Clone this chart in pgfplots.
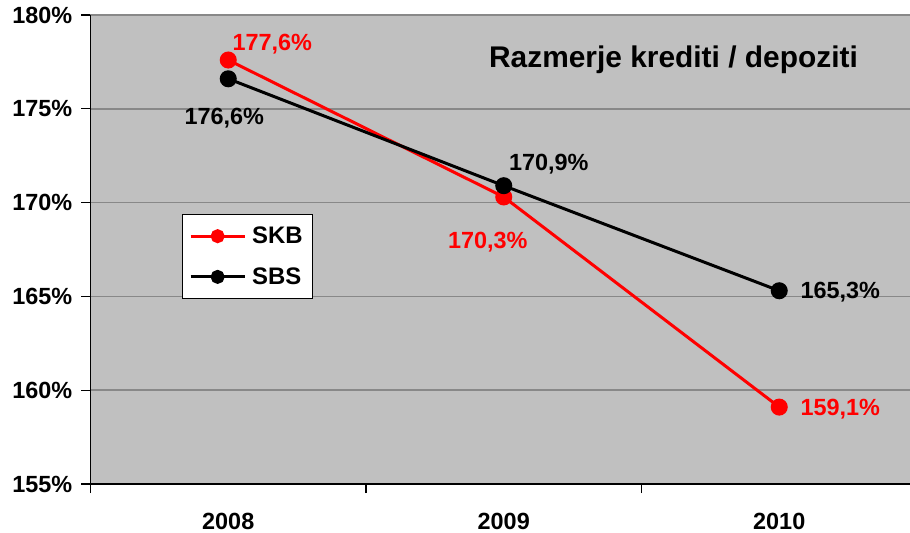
\documentclass[border=0pt]{standalone}
\usepackage{fontspec}
\setmainfont{Liberation Sans}
\usepackage{pgfplots}
\usepackage{pgfplotstable}
\pgfplotsset{compat=1.18}
\definecolor{plotbg}{RGB}{192,192,192}
\definecolor{gridc}{RGB}{136,136,136}
\definecolor{skbred}{RGB}{255,0,0}

\pgfplotstableread{
x y
0 177.6
1 170.3
2 159.1
}\skb
\pgfplotstableread{
x y
0 176.6
1 170.9
2 165.3
}\sbs

\newcommand{\lblfont}{\fontsize{23.5}{28}\selectfont\bfseries}
\pgfplotsset{
  lbl/.style n args={3}{draw=none, forget plot, mark=none, point meta=y,
    nodes near coords={\pgfmathprintnumber[fixed,fixed zerofill,precision=1,use comma,assume math mode=true]{\pgfplotspointmeta}\%},
    every node near coord/.style={anchor=base, inner sep=0pt, xshift=#1, yshift=#2, font=\lblfont, text=#3}},
}

\begin{document}
\begin{tikzpicture}
\begin{axis}[
  scale only axis, width=819.5bp, height=469bp,
  xmin=-0.5, xmax=2.4746, ymin=155, ymax=180,
  axis x line*=bottom, axis y line*=left,
  axis line style={-},
  x axis line style={line width=2.2bp},
  y axis line style={line width=1.5bp},
  axis background/.style={fill=plotbg},
  xtick={0,1,2}, xticklabels={2008,2009,2010},
  major x tick style={draw=none},
  minor xtick={-0.5,0.5,1.5},
  minor x tick style={line width=1.3bp, black},
  minor tick length=9bp,
  ytick={155,160,...,180},
  yticklabels={155\%,160\%,165\%,170\%,175\%,180\%},
  major tick length=9bp,
  y tick style={line width=1.3bp, black},
  tick align=outside,
  ymajorgrids,
  major grid style={gridc, line width=1.5bp},
  tick label style={font=\lblfont},
  yticklabel style={anchor=east, inner sep=0pt, xshift=-9bp},
  xticklabel style={anchor=base, inner sep=0pt, yshift=-36bp},
  clip=false,
  legend style={at={(0.1117,0.5757)}, anchor=north west, draw=black,
    line width=1.2bp, fill=white, font=\fontsize{24}{28}\selectfont\bfseries,
    inner xsep=6.5bp, inner ysep=9.5bp, row sep=16.5bp, column sep=3bp,
    nodes={inner sep=3bp}},
  legend cell align=left,
  legend image code/.code={\draw[mark repeat=2,mark phase=2,#1,mark size=5.5bp] plot coordinates {(0bp,0bp)(27bp,0bp)(54bp,0bp)};},
]
\addplot[skbred, line width=3bp, mark=*, mark size=7bp,
  mark options={solid, fill=skbred, draw=skbred}]
  table[x=x, y=y] {\skb};
\addlegendentry{SKB}
\addplot[black, line width=3bp, mark=*, mark size=7bp,
  mark options={solid, fill=black, draw=black}]
  table[x=x, y=y] {\sbs};
\addlegendentry{SBS}
% data labels
\addplot[lbl={44bp}{10bp}{skbred}] coordinates {(0,177.6)};
\addplot[lbl={-16bp}{-52bp}{skbred}] coordinates {(1,170.3)};
\addplot[lbl={61bp}{-8bp}{skbred}] coordinates {(2,159.1)};
\addplot[lbl={-4bp}{-46bp}{black}] coordinates {(0,176.6)};
\addplot[lbl={45bp}{15bp}{black}] coordinates {(1,170.9)};
\addplot[lbl={61bp}{-8bp}{black}] coordinates {(2,165.3)};
\node[anchor=base, font=\fontsize{30}{34}\selectfont\bfseries] at (rel axis cs:0.7114,0.8891) {Razmerje krediti / depoziti};
\end{axis}
\pgfresetboundingbox
\path[use as bounding box] ([shift={(-90.5bp,-49bp)}]current axis.south west) rectangle ([shift={(0bp,15bp)}]current axis.north east);
\end{tikzpicture}
\end{document}
